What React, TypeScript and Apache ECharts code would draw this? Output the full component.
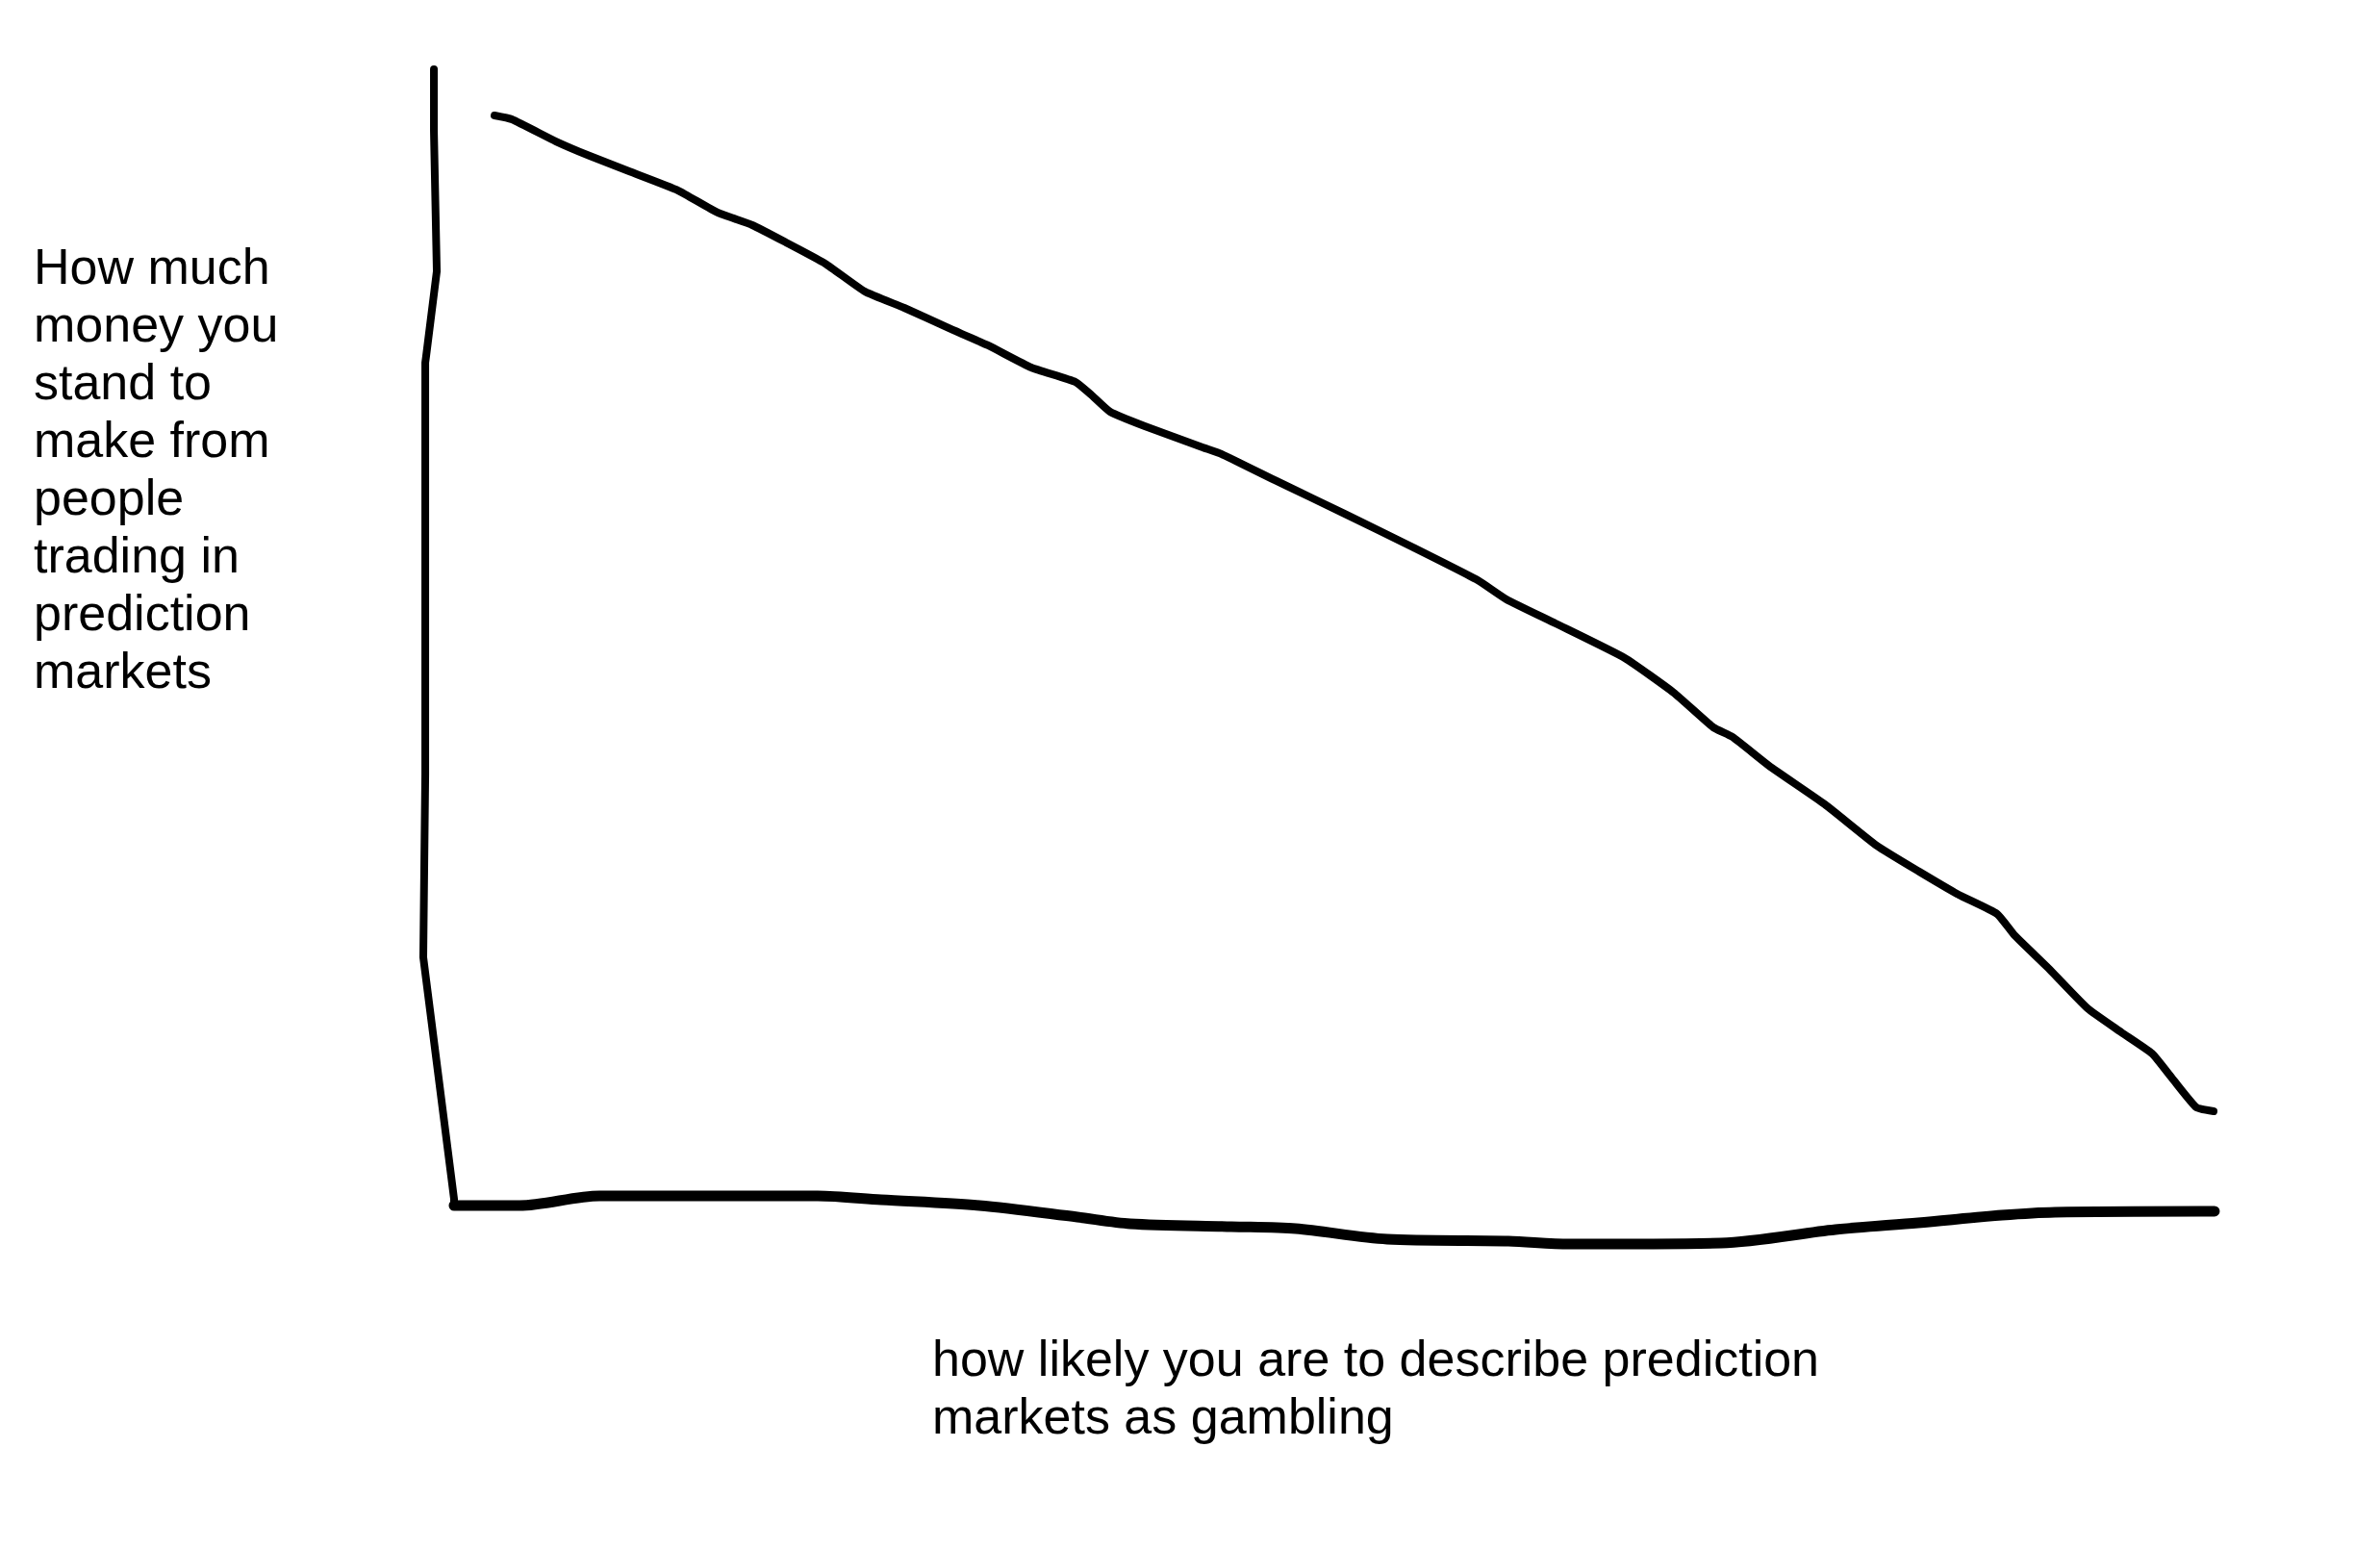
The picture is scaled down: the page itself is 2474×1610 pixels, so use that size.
import React, { useEffect, useRef } from "react";
import * as echarts from "echarts";

// Axis titles (hand-written style labels)
const yAxisTitle = [
  "How much",
  "money you",
  "stand to",
  "make from",
  "people",
  "trading in",
  "prediction",
  "markets",
];
const xAxisTitle = ["how likely you are to describe prediction", "markets as gambling"];

// Hand-drawn trend: likelihood of calling it gambling (x) vs money at stake (y)
const trendX = [
  3.96, 4.92, 7.38, 9.25, 11.44, 14.17, 16.36, 18.29, 20.16, 22.35, 24.55, 26.74,
  29.2, 31.39, 33.8, 36.26, 37.11, 38.18, 40.11, 43.32, 44.39, 47.43, 51.23, 55.03,
  58.61, 60.21, 62.94, 66.79, 69.52, 71.71, 72.78, 74.81, 77.91, 80.8, 83.16, 85.35,
  87.49, 88.45, 90.32, 92.51, 94.39, 96.1, 97.27, 98.56, 99.52,
];
const trendY = [
  95.16, 94.84, 92.98, 91.77, 90.48, 88.87, 87.02, 85.97, 84.52, 82.74, 80.4, 79.03,
  77.34, 75.89, 74.03, 72.82, 71.77, 70.32, 69.11, 67.34, 66.77, 64.52, 61.77, 58.95,
  56.21, 54.6, 52.58, 49.68, 46.77, 43.87, 43.06, 40.65, 37.42, 33.95, 31.77, 29.84,
  28.23, 26.45, 23.71, 20.32, 18.31, 16.53, 14.35, 12.02, 11.69,
];

// Hand-drawn horizontal axis stroke
const baseX = [
  1.71, 5.35, 9.79, 21.93, 25.45, 30.91, 36.36, 39.3, 44.92, 48.5, 53.58, 60.32,
  63.69, 72.14, 78.5, 83.1, 87.75, 90.7, 99.57,
];
const baseY = [
  3.79, 3.79, 4.6, 4.6, 4.27, 3.79, 2.82, 2.26, 2.02, 1.85, 0.97, 0.81, 0.56, 0.65,
  1.77, 2.34, 2.98, 3.23, 3.31,
];

// Hand-drawn vertical axis stroke
const sideX = [0.59, 0.59, 0.75, 0.16, 0.11, 0.11, 0.0, 1.71, 1.71];
const sideY = [99.03, 93.87, 82.1, 75.0, 74.44, 39.92, 24.6, 4.35, 3.79];

const pairs = (xs: number[], ys: number[]) => xs.map((x, i) => [x, ys[i]]);

export default function App() {
  const ref = useRef<HTMLDivElement>(null);

  useEffect(() => {
    if (!ref.current) return;
    const chart = echarts.init(ref.current, null, { renderer: "svg" });
    const font = '"Liberation Sans", Arial, Helvetica, sans-serif';
    chart.setOption({
      animation: false,
      backgroundColor: "#ffffff",
      grid: { left: 440, top: 60, width: 1870, height: 1240, containLabel: false },
      xAxis: { type: "value", min: 0, max: 100, show: false },
      yAxis: { type: "value", min: 0, max: 100, show: false },
      series: [
        {
          name: "y-axis stroke",
          type: "line",
          data: pairs(sideX, sideY),
          symbol: "none",
          silent: true,
          lineStyle: { color: "#000", width: 8, cap: "round", join: "round" },
        },
        {
          name: "x-axis stroke",
          type: "line",
          data: pairs(baseX, baseY),
          symbol: "none",
          smooth: 0.3,
          silent: true,
          lineStyle: { color: "#000", width: 11, cap: "round", join: "round" },
        },
        {
          name: "trend",
          type: "line",
          data: pairs(trendX, trendY),
          symbol: "none",
          smooth: 0.15,
          silent: true,
          lineStyle: { color: "#000", width: 8, cap: "round", join: "round" },
        },
      ],
      graphic: [
        {
          type: "text",
          x: 35,
          y: 247,
          style: {
            text: yAxisTitle.join("\n"),
            fontSize: 52,
            fontFamily: font,
            fill: "#000",
            lineHeight: 60,
          },
        },
        {
          type: "text",
          x: 969,
          y: 1382,
          style: {
            text: xAxisTitle.join("\n"),
            fontSize: 52,
            fontFamily: font,
            fill: "#000",
            lineHeight: 60,
          },
        },
      ],
    });
    return () => chart.dispose();
  }, []);

  return (
    <div
      ref={ref}
      style={{
        position: "fixed",
        left: 0,
        top: 0,
        width: 2474,
        height: 1610,
        background: "#fff",
      }}
    />
  );
}
